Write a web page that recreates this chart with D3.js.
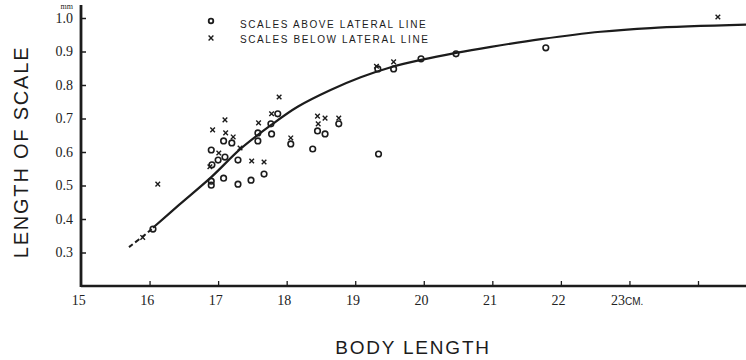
<!DOCTYPE html>
<html>
<head>
<meta charset="utf-8">
<script src="https://cdn.jsdelivr.net/npm/d3@7"></script>
<style>
  html, body { margin: 0; padding: 0; background: #fff; }
  svg { display: block; }
  .tick text { font-family: "Liberation Serif", "DejaVu Serif", serif; font-size: 14px; fill: #222; }
</style>
</head>
<body>
<svg id="chart" width="746" height="360"></svg>
<script>
// Growth curve of scale length against body length
const xTicks = [15, 16, 17, 18, 19, 20, 21, 22, 23, 24];
const xTickLabels = ["15", "16", "17", "18", "19", "20", "21", "22", "23", ""];
const yTicks = [0.3, 0.4, 0.5, 0.6, 0.7, 0.8, 0.9, 1.0];
const yTickLabels = ["0.3", "0.4", "0.5", "0.6", "0.7", "0.8", "0.9", "1.0"];

// fitted curve (body length cm, scale length mm); first stretch drawn dashed
const curveX = [15.70, 15.98, 16.05, 16.43, 16.90, 17.33, 17.77, 18.16, 18.64, 19.08, 19.52, 19.96, 20.47, 20.98, 21.71, 22.58, 23.31, 24.71];
const curveY = [0.316, 0.361, 0.374, 0.442, 0.525, 0.610, 0.680, 0.735, 0.785, 0.823, 0.853, 0.875, 0.896, 0.914, 0.937, 0.959, 0.970, 0.980];
const dashedCount = 2;

// scales above the lateral line (circles)
const aboveX = [16.05, 16.90, 16.90, 16.90, 17.00, 16.91, 17.08, 17.10, 17.20, 17.08, 17.29, 17.29, 17.48, 17.58, 17.58, 17.67, 17.77, 17.78, 17.87, 18.06, 18.38, 18.45, 18.56, 18.76, 19.34, 19.33, 19.56, 19.96, 20.47, 21.78];
const aboveY = [0.370, 0.513, 0.501, 0.606, 0.576, 0.562, 0.633, 0.585, 0.627, 0.522, 0.576, 0.504, 0.516, 0.657, 0.633, 0.534, 0.684, 0.654, 0.714, 0.624, 0.609, 0.663, 0.654, 0.684, 0.594, 0.848, 0.848, 0.878, 0.893, 0.911];

// scales below the lateral line (crosses)
const belowX = [15.90, 16.12, 16.92, 17.10, 17.11, 17.22, 17.01, 16.88, 17.32, 17.49, 17.67, 17.59, 17.78, 17.89, 18.06, 18.45, 18.46, 18.56, 18.76, 19.31, 19.56, 24.29];
const belowY = [0.345, 0.504, 0.666, 0.696, 0.657, 0.645, 0.597, 0.556, 0.612, 0.573, 0.570, 0.687, 0.714, 0.764, 0.642, 0.707, 0.684, 0.701, 0.701, 0.856, 0.869, 1.003];

const legendLabels = ["SCALES ABOVE LATERAL LINE", "SCALES BELOW LATERAL LINE"];

const ink = "#1c1c1c";
const svg = d3.select("#chart");

const x = d3.scaleLinear().domain([15, 24]).range([81, 698]);
const y = d3.scaleLinear().domain([0.2, 1.0]).range([286, 18]);

// axes
const xAxis = d3.axisBottom(x)
  .tickValues(xTicks)
  .tickFormat((d, i) => xTickLabels[i])
  .tickSize(-5).tickSizeOuter(0).tickPadding(9);
const gx = svg.append("g").attr("transform", `translate(0,${y(0.2)})`).call(xAxis);
gx.select(".domain").remove();
gx.selectAll(".tick line").attr("stroke", ink).attr("stroke-width", 1.3);
gx.selectAll(".tick").filter(d => d === 15).select("line").remove();
gx.selectAll(".tick text").attr("dx", "-0.2em");
gx.selectAll(".tick").filter(d => d === 23).select("text")
  .append("tspan").text("CM.")
  .style("font-family", "'Liberation Sans', Arial, sans-serif").style("font-size", "10px");

const yAxis = d3.axisLeft(y)
  .tickValues(yTicks)
  .tickFormat((d, i) => yTickLabels[i])
  .tickSize(-5).tickSizeOuter(0).tickPadding(8);
const gy = svg.append("g").attr("transform", `translate(${x(15)},0)`).call(yAxis);
gy.select(".domain").remove();
gy.selectAll(".tick line").attr("stroke", ink).attr("stroke-width", 1.5);

// axis lines
svg.append("line")
  .attr("x1", x(15)).attr("x2", 746)
  .attr("y1", y(0.2)).attr("y2", y(0.2))
  .attr("stroke", ink).attr("stroke-width", 2.6);
svg.append("line")
  .attr("x1", x(15)).attr("x2", x(15))
  .attr("y1", y(0.2) + 1).attr("y2", 5)
  .attr("stroke", ink).attr("stroke-width", 2.8);

// unit above the y labels
svg.append("text")
  .attr("x", x(15) - 8).attr("y", y(1.0) - 9)
  .attr("text-anchor", "end")
  .style("font-family", "'Liberation Serif', serif").style("font-size", "8px")
  .attr("fill", ink).text("mm");

// axis titles
svg.append("text")
  .attr("transform", `translate(28,${y(0.6)}) rotate(-90)`)
  .attr("text-anchor", "middle")
  .style("font-family", "'Liberation Sans', Arial, sans-serif")
  .style("font-size", "20px").style("letter-spacing", "1.8px")
  .attr("fill", ink).text("LENGTH OF SCALE");
svg.append("text")
  .attr("x", 413).attr("y", 354)
  .attr("text-anchor", "middle")
  .style("font-family", "'Liberation Sans', Arial, sans-serif")
  .style("font-size", "19px").style("letter-spacing", "1.8px")
  .attr("fill", ink).text("BODY LENGTH");

// fitted curve
const line = d3.line().x(d => x(d[0])).y(d => y(d[1])).curve(d3.curveCatmullRom.alpha(0.5));
const pts = curveX.map((v, i) => [v, curveY[i]]);
svg.append("path")
  .attr("d", line(pts.slice(0, dashedCount + 1)))
  .attr("fill", "none").attr("stroke", ink).attr("stroke-width", 2)
  .attr("stroke-dasharray", "5,3");
svg.append("path")
  .attr("d", line(pts.slice(dashedCount)))
  .attr("fill", "none").attr("stroke", ink).attr("stroke-width", 2.2);

// markers
function cross(g, cx, cy, s) {
  g.append("path")
    .attr("d", `M${cx - s},${cy - s}L${cx + s},${cy + s}M${cx + s},${cy - s}L${cx - s},${cy + s}`)
    .attr("stroke", ink).attr("stroke-width", 1.4).attr("fill", "none");
}
const marks = svg.append("g");
aboveX.forEach((v, i) => {
  marks.append("circle")
    .attr("cx", x(v)).attr("cy", y(aboveY[i])).attr("r", 2.8)
    .attr("fill", "none").attr("stroke", ink).attr("stroke-width", 1.6);
});
belowX.forEach((v, i) => cross(marks, x(v), y(belowY[i]), 2.3));

// legend
const legend = svg.append("g");
legend.append("circle").attr("cx", 211).attr("cy", 21).attr("r", 2.3)
  .attr("fill", "none").attr("stroke", ink).attr("stroke-width", 1.8);
cross(legend, 211, 38, 2.4);
legendLabels.forEach((t, i) => {
  legend.append("text")
    .attr("x", 240).attr("y", 28 + i * 15)
    .style("font-family", "'Liberation Sans', Arial, sans-serif")
    .style("font-size", "10px").style("letter-spacing", "1.6px")
    .attr("fill", ink).text(t);
});
</script>
</body>
</html>
